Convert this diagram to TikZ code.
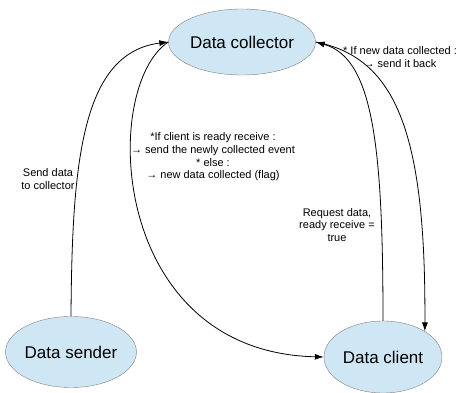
\documentclass[tikz,border=0pt]{standalone}
\usepackage{fontspec}
\setmainfont{Liberation Sans}
\usepackage{tikz}
\usetikzlibrary{calc, arrows.meta, shapes.geometric}
\tikzset{>={Latex[length=9pt,width=6pt]}}
\definecolor{nodeblue}{RGB}{207, 231, 245}
\definecolor{rimgray}{RGB}{128, 128, 128}
\tikzset{databox/.style={ellipse, draw=rimgray, fill=nodeblue, inner sep=0pt, font=\fontsize{17}{20}\selectfont}}
\tikzset{note/.style={align=center, inner sep=0pt, font=\fontsize{11}{12.6}\selectfont}}

\begin{document}
\begin{tikzpicture}[x=1pt, y=1pt]
\useasboundingbox (0,0) rectangle (459,393);

\node[databox, minimum width=120pt, minimum height=66pt] (collector) at (242, 351) {Data collector};
\node[databox, minimum width=125pt, minimum height=71pt] (sender) at (71, 41) {Data sender};
\node[databox, minimum width=118pt, minimum height=72pt] (client) at (383, 36) {Data client};

% sender -> collector, and collector -> client on the left
\draw[->, line width=0.8pt] (sender.north) .. controls +(1, 153) and +(-87, -11) .. (collector.west);
\draw[->, line width=0.8pt] (collector.west) .. controls +(-68, -45) and +(-215, 5) .. (client.west);

% client -> collector, and collector -> client on the right
\draw[->, line width=0.8pt] (client.north) .. controls +(0, 177) and +(57, -16) .. (collector.east);
\draw[->, line width=0.8pt] (collector.east) .. controls +(82, -16) and +(1, 195) .. (client.north east);

\node[note] (sendlbl) at (48, 214) {Send data\\to collector};
\node[note] (forwardlbl) at (213, 236) {*If client is ready receive :\\→ send the newly collected event\\* else :\\→ new data collected (flag)};
\node[note] (backlbl) at (400, 336) {* If new data collected :\\→ send it back};
\node[note] (requestlbl) at (337, 168) {Request data,\\ready receive =\\true};
\end{tikzpicture}
\end{document}
